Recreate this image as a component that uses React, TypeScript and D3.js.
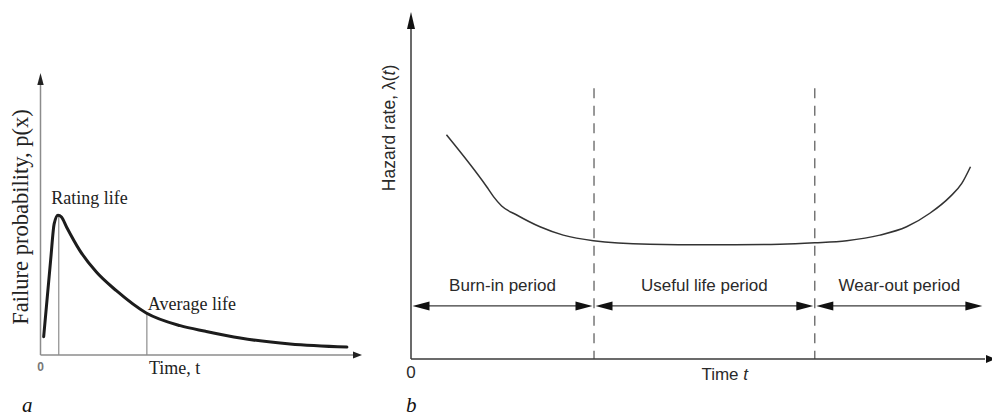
import React from 'react';
import * as d3 from 'd3';

const W = 992;
const H = 416;

// panel a: failure probability density
const failTime = [1.0, 3.2, 4.3, 5.5, 6.6, 8.2, 12.3, 17.6, 23.9, 33.3, 44.0, 52.0, 62.9, 78.6, 96.5];
const failProb = [6.5, 33.7, 46.5, 49.6, 48.9, 45.4, 37.2, 29.4, 22.8, 14.9, 10.4, 8.4, 6.0, 3.9, 2.8];
const lifeMarks = [
  { t: 5.75, p: 49.6, label: 'Rating life' },
  { t: 33.5, p: 14.9, label: 'Average life' },
];

// panel b: bathtub hazard curve
const hazTime = [6.1, 13.0, 14.2, 15.6, 18.2, 22.2, 26.2, 31.4, 41.1, 50.9, 63.5, 69.5, 75.0, 80.7, 85.3, 89.3, 92.8, 94.8, 96.3];
const hazRate = [64.6, 49.7, 46.8, 44.1, 41.5, 38.1, 35.7, 34.1, 33.1, 32.9, 33.1, 33.5, 34.1, 35.7, 38.1, 42.0, 46.8, 50.6, 55.4];
const periodBounds = [0, 31.5, 69.5, 98.6];
const periodLabels = ['Burn-in period', 'Useful life period', 'Wear-out period'];

const SANS = 'Liberation Sans, Arial, sans-serif';
const SERIF = 'Liberation Serif, Times New Roman, serif';

function head(tipX: number, tipY: number, dx: number, dy: number, len: number, half: number) {
  // dx,dy: unit direction the arrow points to
  const bx = tipX - dx * len;
  const by = tipY - dy * len;
  const px = -dy * half;
  const py = dx * half;
  return `${tipX},${tipY} ${bx + px},${by + py} ${bx - px},${by - py}`;
}

function PanelA() {
  const x = d3.scaleLinear().domain([0, 100]).range([40.5, 358]);
  const y = d3.scaleLinear().domain([0, 100]).range([355, 73]);
  const pts = failTime.map((t, i) => [t, failProb[i]] as [number, number]);
  const line = d3
    .line<[number, number]>()
    .x((d) => x(d[0]))
    .y((d) => y(d[1]))
    .curve(d3.curveMonotoneX);
  const axis = '#8c8c8c';

  return (
    <g>
      <line x1={x(0)} y1={y(0)} x2={x(0)} y2={y(100) + 10} stroke={axis} strokeWidth={1.5} />
      <polygon points={head(x(0), y(100), 0, -1, 12, 3.2)} fill="#222" />
      <line x1={x(0)} y1={y(0)} x2={354} y2={y(0)} stroke={axis} strokeWidth={1.5} />
      <polygon points={head(362, y(0), 1, 0, 9, 3.5)} fill="#222" />

      {lifeMarks.map((m) => (
        <line key={m.label} x1={x(m.t)} y1={y(0)} x2={x(m.t)} y2={y(m.p)} stroke={axis} strokeWidth={1.2} />
      ))}

      <path d={line(pts) || ''} fill="none" stroke="#1c1c1c" strokeWidth={3} strokeLinecap="round" />

      <text x={x(lifeMarks[0].t) - 7.5} y={y(lifeMarks[0].p) - 11} fontFamily={SERIF} fontSize={18} fill="#222">
        {lifeMarks[0].label}
      </text>
      <text x={x(lifeMarks[1].t) + 1} y={y(lifeMarks[1].p) - 3} fontFamily={SERIF} fontSize={18} fill="#222">
        {lifeMarks[1].label}
      </text>

      <text x={x(0)} y={371} textAnchor="middle" fontFamily={SANS} fontSize={12} fontWeight="bold" fill="#777">0</text>
      <text x={149} y={374} fontFamily={SERIF} fontSize={18} fill="#222">Time, t</text>
      <text transform="translate(28,217) rotate(-90)" textAnchor="middle" fontFamily={SERIF} fontSize={22.5} fill="#222">
        Failure probability, p(x)
      </text>
      <text x={22} y={412} fontFamily={SERIF} fontStyle="italic" fontSize={21} fill="#111">a</text>
    </g>
  );
}

function PanelB() {
  const x = d3.scaleLinear().domain([0, 100]).range([411, 992]);
  const y = d3.scaleLinear().domain([0, 100]).range([359, 12]);
  const pts = hazTime.map((t, i) => [t, hazRate[i]] as [number, number]);
  const line = d3
    .line<[number, number]>()
    .x((d) => x(d[0]))
    .y((d) => y(d[1]))
    .curve(d3.curveMonotoneX);
  const ink = '#3a3a3a';
  const arrowY = y(15.3);

  return (
    <g>
      {periodBounds.slice(1, 3).map((b) => (
        <line key={b} x1={x(b)} y1={y(78)} x2={x(b)} y2={y(0)} stroke="#555" strokeWidth={1.2} strokeDasharray="10,7.5" />
      ))}

      <line x1={x(0)} y1={y(0)} x2={x(0)} y2={y(100) + 12} stroke={ink} strokeWidth={1.5} />
      <polygon points={head(x(0), y(100), 0, -1, 17, 4)} fill="#111" />
      <line x1={x(0)} y1={y(0)} x2={985} y2={y(0)} stroke={ink} strokeWidth={1.5} />
      <polygon points={head(996, y(0), 1, 0, 10, 4)} fill="#111" />

      <path d={line(pts) || ''} fill="none" stroke="#333" strokeWidth={1.5} />

      {periodLabels.map((lab, i) => {
        const x0 = x(periodBounds[i]) + 1.5;
        const x1 = x(periodBounds[i + 1]) - 1.5;
        return (
          <g key={lab}>
            <line x1={x0 + 8} y1={arrowY} x2={x1 - 8} y2={arrowY} stroke={ink} strokeWidth={1.3} />
            <polygon points={head(x0, arrowY, -1, 0, 17, 4.5)} fill="#111" />
            <polygon points={head(x1, arrowY, 1, 0, 17, 4.5)} fill="#111" />
            <text x={(x0 + x1) / 2} y={arrowY - 14.5} textAnchor="middle" fontFamily={SANS} fontSize={17} fill="#2a2a2a">
              {lab}
            </text>
          </g>
        );
      })}

      <text x={x(0)} y={378} textAnchor="middle" fontFamily={SANS} fontSize={17} fill="#2a2a2a">0</text>
      <text x={x(54)} y={380} textAnchor="middle" fontFamily={SANS} fontSize={17} fill="#2a2a2a">
        Time <tspan fontStyle="italic">t</tspan>
      </text>
      <text transform="translate(395,128) rotate(-90)" textAnchor="middle" fontFamily={SANS} fontSize={17.5} fill="#2a2a2a">
        Hazard rate, λ(<tspan fontStyle="italic">t</tspan>)
      </text>
      <text x={406} y={412} fontFamily={SERIF} fontStyle="italic" fontSize={21} fill="#111">b</text>
    </g>
  );
}

export default function App() {
  return (
    <svg
      width={W}
      height={H}
      viewBox={`0 0 ${W} ${H}`}
      style={{ position: 'absolute', left: 0, top: 0, background: '#fff' }}
    >
      <PanelA />
      <PanelB />
    </svg>
  );
}
